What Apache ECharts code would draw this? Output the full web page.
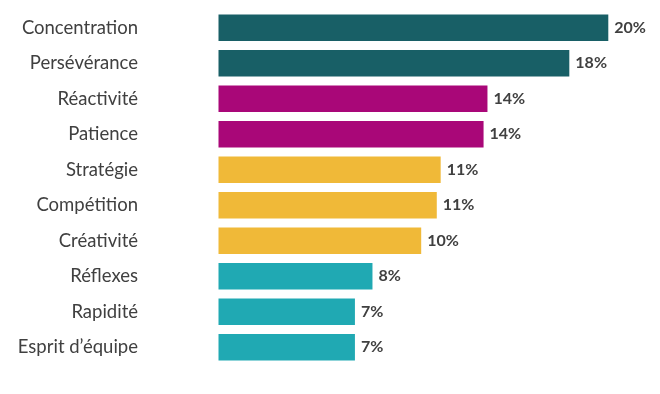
<!DOCTYPE html>
<html>
<head>
<meta charset="utf-8">
<script src="https://cdn.jsdelivr.net/npm/echarts@6/dist/echarts.min.js"></script>
<style>html,body{margin:0;padding:0;background:#fff}#c{width:660px;height:394px}</style>
</head>
<body>
<div id="c"></div>
<script>
const categories = ["Concentration","Persévérance","Réactivité","Patience","Stratégie","Compétition","Créativité","Réflexes","Rapidité","Esprit d\u2019équipe"];
const values = [20, 18, 13.8, 13.6, 11.4, 11.2, 10.4, 7.9, 7.0, 7.0];
const groups = [0, 0, 1, 1, 2, 2, 2, 3, 3, 3];

const palette = ["#185f66", "#a90778", "#f0b938", "#20a9b3"];

const chart = echarts.init(document.getElementById('c'));
chart.setOption({
  animation: false,
  grid: { left: 218.5, top: 10, width: 389.8, height: 355 },
  xAxis: { type: 'value', min: 0, max: 20, show: false },
  yAxis: {
    type: 'category', inverse: true, data: categories,
    axisLine: { show: false }, axisTick: { show: false },
    axisLabel: { margin: 80.5, color: '#404040', fontSize: 18.5, fontFamily: 'Lato' }
  },
  series: [{
    type: 'bar',
    barCategoryGap: '25%',
    data: values.map((v, i) => ({ value: v, itemStyle: { color: palette[groups[i]] } })),
    label: {
      show: true, position: 'right', distance: 6,
      color: '#404040', fontWeight: 'bold', fontSize: 16, fontFamily: 'Lato',
      formatter: p => Math.round(p.value) + '%'
    }
  }]
});
</script>
</body>
</html>
